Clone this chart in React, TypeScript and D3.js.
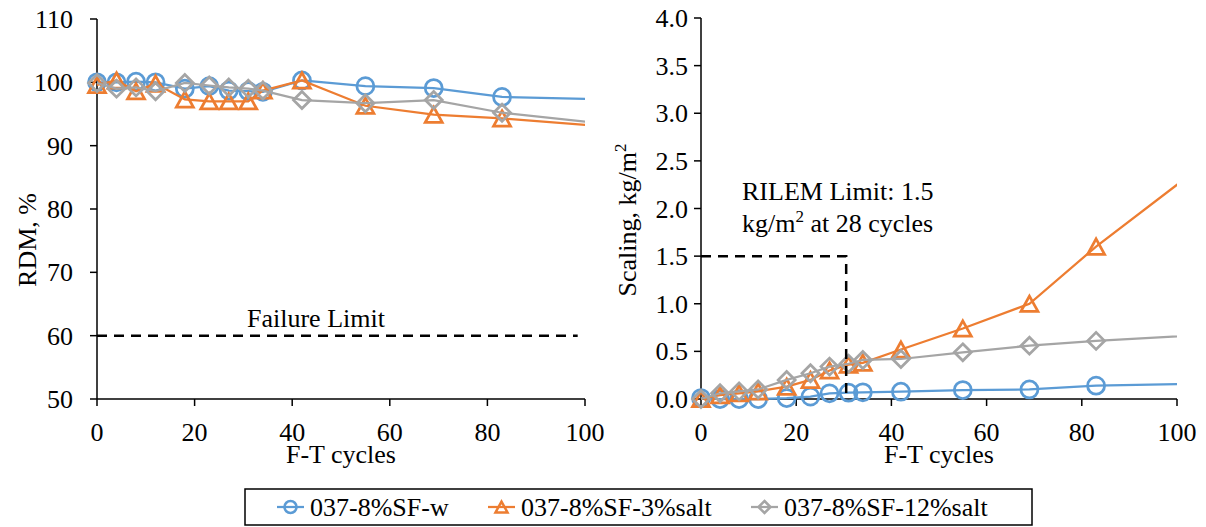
import React from "react";
import * as d3 from "d3";

// ---------- data ----------
const cycles = [0, 4, 8, 12, 18, 23, 27, 31, 34, 42, 55, 69, 83, 111];

const rdmW = [100.0, 100.0, 100.1, 100.0, 99.0, 99.4, 98.7, 98.6, 98.5, 100.3, 99.4, 99.1, 97.7, 97.2];
const rdm3 = [99.6, 100.3, 98.6, 99.8, 97.3, 97.0, 97.0, 97.0, 98.7, 100.3, 96.3, 94.9, 94.3, 92.6];
const rdm12 = [99.9, 99.0, 99.2, 98.6, 99.9, 99.5, 99.2, 99.0, 98.7, 97.2, 96.7, 97.2, 95.2, 92.9];

const scW = [0.01, 0.0, 0.0, 0.0, 0.01, 0.025, 0.06, 0.066, 0.07, 0.077, 0.094, 0.1, 0.14, 0.165];
const sc3 = [0.0, 0.04, 0.06, 0.08, 0.13, 0.2, 0.3, 0.36, 0.38, 0.52, 0.74, 1.0, 1.6, 2.67];
const sc12 = [0.0, 0.06, 0.08, 0.1, 0.2, 0.27, 0.34, 0.37, 0.41, 0.42, 0.49, 0.56, 0.61, 0.69];

const seriesNames = ["037-8%SF-w", "037-8%SF-3%salt", "037-8%SF-12%salt"];
const seriesColors = ["#5B9BD5", "#ED7D31", "#A5A5A5"];
const seriesMarkers = ["circle", "triangle", "diamond"];

const xTicks = [0, 20, 40, 60, 80, 100];
const rdmTicks = [50, 60, 70, 80, 90, 100, 110];
const scalingTicks = [0, 0.5, 1, 1.5, 2, 2.5, 3, 3.5, 4];

const failureLimit: [number, number][] = [[0, 60], [98.5, 60]];
const rilemLimit: [number, number][] = [[0, 1.5], [30.5, 1.5], [30.5, 0]];

const FONT = "'Liberation Serif', 'Times New Roman', serif";
const FS = 26;

function markerPath(type: string, x: number, y: number, s: number): string {
  if (type === "circle") {
    return `M${x - s},${y}a${s},${s} 0 1,0 ${2 * s},0a${s},${s} 0 1,0 ${-2 * s},0Z`;
  }
  if (type === "triangle") {
    const h = s * 0.9;
    return `M${x},${y - h}L${x + s},${y + h}L${x - s},${y + h}Z`;
  }
  return `M${x},${y - s}L${x + s},${y}L${x},${y + s}L${x - s},${y}Z`;
}

type PanelProps = {
  id: string;
  x0: number;
  x1: number;
  yTop: number;
  yBot: number;
  yDomain: [number, number];
  yTicks: number[];
  yFmt: (v: number) => string;
  labelRight: number;
  series: number[][];
};

function Panel(p: PanelProps) {
  const x = d3.scaleLinear().domain([0, 100]).range([p.x0, p.x1]);
  const y = d3.scaleLinear().domain(p.yDomain).range([p.yBot, p.yTop]);
  const line = d3
    .line<number>()
    .x((_, i) => x(cycles[i]))
    .y((d) => y(d));
  return (
    <g>
      <defs>
        <clipPath id={p.id}>
          <rect x={p.x0 - 20} y={p.yTop - 20} width={p.x1 - p.x0 + 20} height={p.yBot - p.yTop + 40} />
        </clipPath>
      </defs>
      {/* axes */}
      <line x1={p.x0} x2={p.x0} y1={p.yTop} y2={p.yBot} stroke="#000" strokeWidth={1.5} />
      <line x1={p.x0} x2={p.x1} y1={p.yBot} y2={p.yBot} stroke="#000" strokeWidth={1.5} />
      {p.yTicks.map((t) => (
        <g key={"y" + t}>
          <line x1={p.x0 - 7} x2={p.x0} y1={y(t)} y2={y(t)} stroke="#000" strokeWidth={1.5} />
          <text x={p.labelRight} y={y(t)} dy="0.35em" textAnchor="end" fontFamily={FONT} fontSize={FS}>
            {p.yFmt(t)}
          </text>
        </g>
      ))}
      {xTicks.map((t) => (
        <g key={"x" + t}>
          <line x1={x(t)} x2={x(t)} y1={p.yBot} y2={p.yBot + 7} stroke="#000" strokeWidth={1.5} />
          <text x={x(t)} y={441} textAnchor="middle" fontFamily={FONT} fontSize={FS}>
            {t}
          </text>
        </g>
      ))}
      <text x={(p.x0 + p.x1) / 2} y={463} textAnchor="middle" fontFamily={FONT} fontSize={FS}>
        F-T cycles
      </text>
      {/* series */}
      <g clipPath={`url(#${p.id})`}>
        {p.series.map((vals, si) => (
          <g key={si}>
            <path d={line(vals) || ""} fill="none" stroke={seriesColors[si]} strokeWidth={2.25} />
            {vals.map((v, i) => (
              <path
                key={i}
                d={markerPath(seriesMarkers[si], x(cycles[i]), y(v), 8.5)}
                fill="none"
                stroke={seriesColors[si]}
                strokeWidth={2.75}
              />
            ))}
          </g>
        ))}
      </g>
    </g>
  );
}

export default function App() {
  const xL = d3.scaleLinear().domain([0, 100]).range([97, 585]);
  const yL = d3.scaleLinear().domain([50, 110]).range([399, 19]);
  const xR = d3.scaleLinear().domain([0, 100]).range([701, 1177]);
  const yR = d3.scaleLinear().domain([0, 4]).range([399, 18]);
  const dashLine = d3
    .line<[number, number]>()
    .x((d) => d[0])
    .y((d) => d[1]);

  const legendItems = [
    { lx: 277, tx: 310 },
    { lx: 488, tx: 521 },
    { lx: 751, tx: 784 },
  ];

  return (
    <svg
      width={1206}
      height={527}
      style={{ position: "absolute", left: 0, top: 0, background: "#fff" }}
    >
      <rect width={1206} height={527} fill="#fff" />
      <Panel
        id="clipL"
        x0={97}
        x1={585}
        yTop={19}
        yBot={399}
        yDomain={[50, 110]}
        yTicks={rdmTicks}
        yFmt={(v) => String(v)}
        labelRight={73}
        series={[rdmW, rdm3, rdm12]}
      />
      <Panel
        id="clipR"
        x0={701}
        x1={1177}
        yTop={18}
        yBot={399}
        yDomain={[0, 4]}
        yTicks={scalingTicks}
        yFmt={(v) => v.toFixed(1)}
        labelRight={688}
        series={[scW, sc3, sc12]}
      />
      {/* limits */}
      <path
        d={dashLine(failureLimit.map((d) => [xL(d[0]), yL(d[1])] as [number, number])) || ""}
        fill="none"
        stroke="#000"
        strokeWidth={2.5}
        strokeDasharray="10,7"
      />
      <text x={247} y={327} fontFamily={FONT} fontSize={FS}>
        Failure Limit
      </text>
      <path
        d={dashLine(rilemLimit.map((d) => [xR(d[0]), yR(d[1])] as [number, number])) || ""}
        fill="none"
        stroke="#000"
        strokeWidth={2.5}
        strokeDasharray="10,7"
      />
      <text x={742} y={200} fontFamily={FONT} fontSize={FS}>
        RILEM Limit: 1.5
      </text>
      <text x={742} y={232} fontFamily={FONT} fontSize={FS}>
        kg/m<tspan fontSize={17} dy={-10}>2</tspan>
        <tspan dy={10}> at 28 cycles</tspan>
      </text>
      {/* axis titles */}
      <text
        transform="translate(27,240) rotate(-90)"
        textAnchor="middle"
        dy="0.35em"
        fontFamily={FONT}
        fontSize={FS}
      >
        RDM, %
      </text>
      <text
        transform="translate(627,220) rotate(-90)"
        textAnchor="middle"
        dy="0.35em"
        fontFamily={FONT}
        fontSize={FS}
      >
        Scaling, kg/m<tspan fontSize={17} dy={-10}>2</tspan>
      </text>
      {/* legend */}
      <rect x={245} y={489} width={787} height={36} fill="#fff" stroke="#000" strokeWidth={1.5} />
      {legendItems.map((it, i) => (
        <g key={i}>
          <line x1={it.lx} x2={it.lx + 27} y1={507} y2={507} stroke={seriesColors[i]} strokeWidth={2.25} />
          <path
            d={markerPath(seriesMarkers[i], it.lx + 13.5, 507, 6)}
            fill="none"
            stroke={seriesColors[i]}
            strokeWidth={2.5}
          />
          <text x={it.tx} y={507} dy="0.35em" fontFamily={FONT} fontSize={FS}>
            {seriesNames[i]}
          </text>
        </g>
      ))}
    </svg>
  );
}
